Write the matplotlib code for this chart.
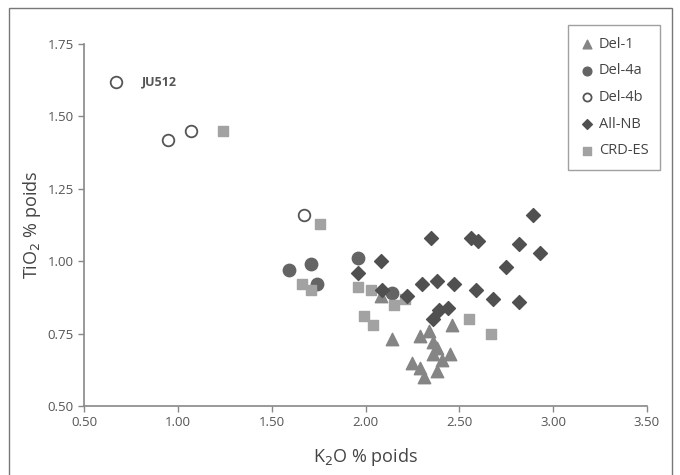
import matplotlib
matplotlib.use('Agg')
import matplotlib.pyplot as plt
from matplotlib.patches import Rectangle

plt.rcParams['font.family'] = ['Open Sans', 'DejaVu Sans']

# Donnees (K2O, TiO2 en % poids)
del1_k2o = [2.14, 2.29, 2.34, 2.46, 2.36, 2.38, 2.36, 2.45, 2.41, 2.25, 2.29, 2.38, 2.31, 2.08]
del1_tio2 = [0.73, 0.74, 0.76, 0.78, 0.72, 0.70, 0.68, 0.68, 0.66, 0.65, 0.63, 0.62, 0.60, 0.88]

del4a_k2o = [1.59, 1.71, 1.74, 1.96, 2.14]
del4a_tio2 = [0.97, 0.99, 0.92, 1.01, 0.89]

del4b_k2o = [0.67, 0.95, 1.07, 1.67]
del4b_tio2 = [1.62, 1.42, 1.45, 1.16]

allnb_k2o = [2.35, 2.56, 2.60, 2.89, 2.82, 2.93, 2.75, 2.08, 1.96, 2.30, 2.38, 2.47,
             2.59, 2.68, 2.82, 2.09, 2.22, 2.36, 2.39, 2.44]
allnb_tio2 = [1.08, 1.08, 1.07, 1.16, 1.06, 1.03, 0.98, 1.00, 0.96, 0.92, 0.93, 0.92,
              0.90, 0.87, 0.86, 0.90, 0.88, 0.80, 0.83, 0.84]

crd_k2o = [1.24, 1.76, 1.66, 1.71, 1.96, 2.03, 2.15, 2.21, 1.99, 2.04, 2.55, 2.67]
crd_tio2 = [1.45, 1.13, 0.92, 0.90, 0.91, 0.90, 0.85, 0.87, 0.81, 0.78, 0.80, 0.75]

x_ticks = [0.5, 1.0, 1.5, 2.0, 2.5, 3.0, 3.5]
y_ticks = [0.5, 0.75, 1.0, 1.25, 1.5, 1.75]

fig = plt.figure(figsize=(6.8, 4.75), dpi=100)
ax = fig.add_axes([84 / 680, 1 - 406 / 475, (647 - 84) / 680, (406 - 44) / 475])

# cadre autour de la figure
fig.patches.append(Rectangle((9 / 680, -0.02), (672 - 9) / 680, 1.02 - 8 / 475,
                             transform=fig.transFigure, fill=False,
                             edgecolor='#777777', linewidth=1.0))

ax.scatter(del1_k2o, del1_tio2, marker='^', s=80, color='#858585', label='Del-1', zorder=3)
ax.scatter(del4a_k2o, del4a_tio2, marker='o', s=80, color='#646464', label='Del-4a', zorder=3)
ax.scatter(del4b_k2o, del4b_tio2, marker='o', s=70, facecolors='white',
           edgecolors='#555555', linewidths=1.3, label='Del-4b', zorder=3)
ax.scatter(allnb_k2o, allnb_tio2, marker='D', s=50, color='#505050', label='All-NB', zorder=4)
ax.scatter(crd_k2o, crd_tio2, marker='s', s=60, color='#a2a2a2', label='CRD-ES', zorder=3)

ax.text(0.81, 1.62, 'JU512', fontsize=9, fontweight='bold', color='#555555', va='center')

ax.set_xlim(0.5, 3.5)
ax.set_ylim(0.5, 1.75)
ax.set_xticks(x_ticks)
ax.set_yticks(y_ticks)
ax.set_xticklabels([f'{v:.2f}' for v in x_ticks])
ax.set_yticklabels([f'{v:.2f}' for v in y_ticks])
ax.tick_params(colors='#888888', labelcolor='#555555', labelsize=9.5, length=4, width=1)

for s in ['top', 'right']:
    ax.spines[s].set_visible(False)
for s in ['left', 'bottom']:
    ax.spines[s].set_color('#888888')
    ax.spines[s].set_linewidth(1.2)

ax.set_xlabel('K$_2$O % poids', fontsize=13, color='#444444', labelpad=12)
ax.set_ylabel('TiO$_2$ % poids', fontsize=13, color='#444444', labelpad=3)

leg = fig.legend(loc='upper right', bbox_to_anchor=(660 / 680, 1 - 25 / 475),
                 borderaxespad=0, frameon=True, fancybox=False, fontsize=10.5,
                 markerscale=0.7, handletextpad=0.3, labelspacing=0.8,
                 borderpad=0.8, handlelength=1.0)
leg.get_frame().set_edgecolor('#888888')
leg.get_frame().set_linewidth(1.0)
for t in leg.get_texts():
    t.set_color('#444444')

fig.savefig('out.png', dpi=100)
